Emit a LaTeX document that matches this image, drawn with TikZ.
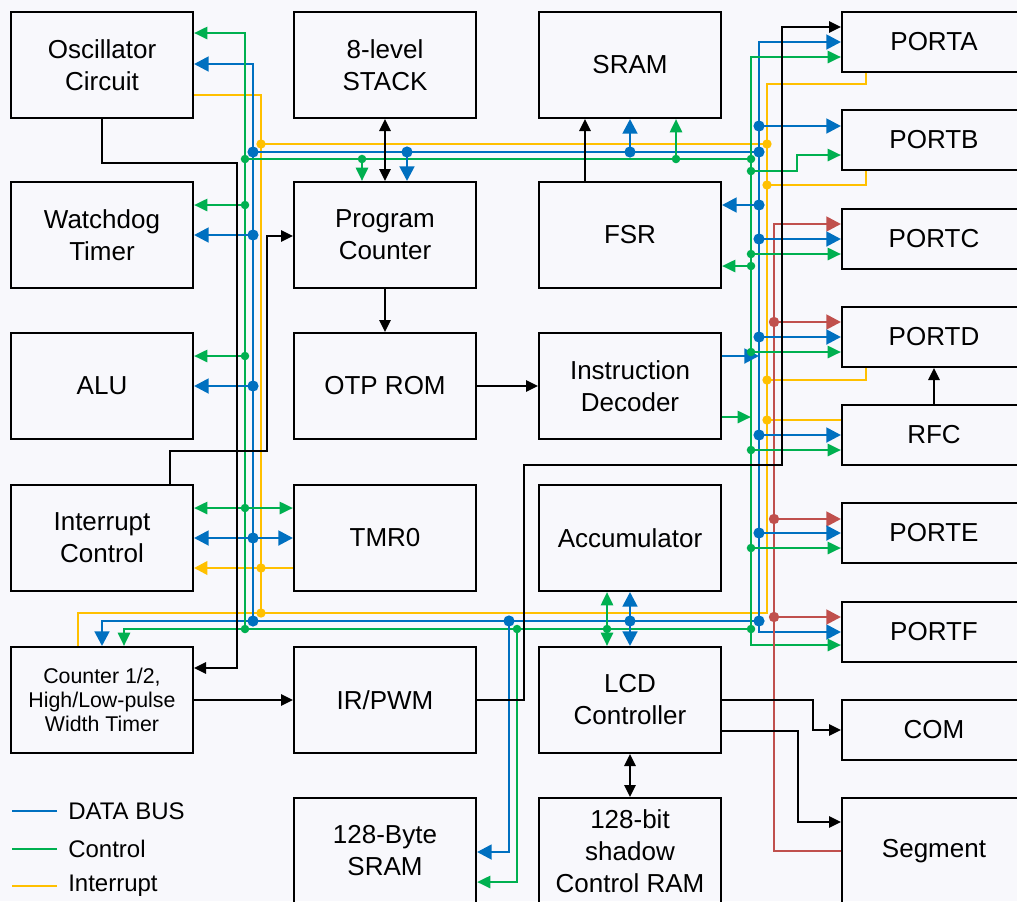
\documentclass[tikz,border=0pt]{standalone}
\usepackage{fontspec}
\setmainfont{Liberation Sans}
\usetikzlibrary{arrows.meta}
\definecolor{busblue}{HTML}{0070C0}
\definecolor{busgreen}{HTML}{00B050}
\definecolor{busyellow}{HTML}{FFC000}
\definecolor{busred}{HTML}{C0504D}
\definecolor{paper}{HTML}{F8F8FC}
\begin{document}
\begin{tikzpicture}[x=0.75pt,y=-0.75pt,
  blk/.style={draw, line width=1.5pt, minimum width=136.5pt, minimum height=79.5pt, inner sep=0pt, align=center, font=\fontsize{19.5}{24}\selectfont},
  port/.style={blk, minimum width=138pt, minimum height=45pt},
  lgd/.style={anchor=west, inner sep=0pt, font=\fontsize{18}{20}\selectfont},
  data/.style={busblue, line width=2.1pt, >={Triangle[length=11pt,width=11pt]}},
  ctrl/.style={busgreen, line width=2pt, >={Triangle[length=10pt,width=9pt]}},
  intr/.style={busyellow, line width=2pt, >={Triangle[length=10pt,width=10pt]}},
  segm/.style={busred, line width=2.1pt, >={Triangle[length=11pt,width=11pt]}},
  sig/.style={black, line width=1.4pt, >={Triangle[length=9pt,width=8.5pt]}}]
  \fill[paper] (0,0) rectangle (1017,901);
  \useasboundingbox (0,0) rectangle (1017,901);
  \clip (0,0) rectangle (1017,901);
  % blocks, left to right
  \node[blk] (osc) at (102,65) {Oscillator\\Circuit};
  \node[blk] (wdt) at (102,235) {Watchdog\\Timer};
  \node[blk] (alu) at (102,386) {ALU};
  \node[blk] (intc) at (102,538) {Interrupt\\Control};
  \node[blk, font=\fontsize{16}{18}\selectfont] (cnt) at (102,700) {Counter 1/2,\\High/Low-pulse\\Width Timer};
  \node[blk] (stack) at (385,65) {8-level\\STACK};
  \node[blk] (pcnt) at (385,235) {Program\\Counter};
  \node[blk] (otp) at (385,386) {OTP ROM};
  \node[blk] (tmr) at (385,538) {TMR0};
  \node[blk] (irpwm) at (385,700) {IR/PWM};
  \node[blk] (bsram) at (385,851) {128-Byte\\SRAM};
  \node[blk] (sram) at (630,65) {SRAM};
  \node[blk] (fsr) at (630,235) {FSR};
  \node[blk] (idec) at (630,386) {Instruction\\Decoder};
  \node[blk] (acc) at (630,538) {Accumulator};
  \node[blk] (lcd) at (630,700) {LCD\\Controller};
  \node[blk] (shram) at (630,851) {128-bit\\shadow\\Control RAM};
  % ports
  \node[port] (porta) at (934,42) {PORTA};
  \node[port] (portb) at (934,140) {PORTB};
  \node[port] (portc) at (934,239) {PORTC};
  \node[port] (portd) at (934,337) {PORTD};
  \node[port] (rfc) at (934,435) {RFC};
  \node[port] (porte) at (934,533) {PORTE};
  \node[port] (portf) at (934,632) {PORTF};
  \node[port] (com) at (934,730) {COM};
  \node[blk, minimum width=138pt] (seg) at (934,851) {Segment};
  % bus rails
  \coordinate (kL) at (237,0);
  \coordinate (gL) at (245,0);
  \coordinate (bL) at (253,0);
  \coordinate (yL) at (261,0);
  \coordinate (kP) at (267,0);
  \coordinate (bS) at (509,0);
  \coordinate (gS) at (517,0);
  \coordinate (gR) at (751,0);
  \coordinate (bR) at (759,0);
  \coordinate (yR) at (767,0);
  \coordinate (rR) at (774,0);
  \coordinate (kR) at (782,0);
  \coordinate (yP) at (866,0);
  \coordinate (yT) at (0,144);
  \coordinate (bT) at (0,152);
  \coordinate (gT) at (0,159);
  \coordinate (yB) at (0,613);
  \coordinate (bB) at (0,621);
  \coordinate (gB) at (0,629);
  % interrupt
  \draw[intr] (osc.east |- 0,95) -| (yL |- yB) -- (yR |- yB) -- (yR |- 0,84) -| (yP |- porta.south);
  \draw[intr] (yL |- yT) -- (yR |- yT);
  \draw[intr] (yL |- yB) -| ([xshift=-18pt]cnt.north);
  \draw[intr,->] (tmr.west |- 0,568) -- (intc.east |- 0,568);
  \draw[intr] (yR |- 0,185) -| (yP |- portb.south);
  \draw[intr] (yR |- 0,380) -| (yP |- portd.south);
  \draw[intr] (yR |- 0,420) -- (rfc.west |- 0,420);
  % data bus
  \draw[data,<-] (osc.east |- 0,64) -| (bL |- bB) -- (bR |- bB);
  \draw[data,->] (bL |- bB) -| (cnt.north);
  \draw[data] (bL |- bT) -- (bR |- bT);
  \draw[data,<->] (porta.west |- 0,42) -| (bR |- 0,632) -- (portf.west |- 0,632);
  % control
  \draw[ctrl,<-] (osc.east |- 0,33) -| (gL |- gB) -- (gR |- gB);
  \draw[ctrl,->] (gL |- gB) -| ([xshift=16.5pt]cnt.north);
  \draw[ctrl] (gL |- gT) -- (gR |- gT);
  \draw[ctrl,<->] (porta.west |- 0,57) -| (gR |- 0,645) -- (portf.west |- 0,645);
  % segment lines
  \draw[segm,->] (seg.west) -| (rR |- 0,224) -- (portc.west |- 0,224);
  \foreach \p/\y in {portd/322, porte/519, portf/617}
    \draw[segm,->] (rR |- 0,\y) -- (\p.west |- 0,\y);
  % left side taps
  \foreach \b/\y in {wdt/235, alu/386} {
    \draw[ctrl,->] (gL |- 0,\y-30) -- (\b.east |- 0,\y-30);
    \draw[data,->] (bL |- 0,\y) -- (\b.east |- 0,\y);
  }
  \draw[ctrl,<->] (intc.east |- 0,508) -- (tmr.west |- 0,508);
  \draw[data,<->] (intc.east) -- (tmr.west);
  % middle taps
  \draw[ctrl,<-] ([xshift=-17.25pt]pcnt.north) -- ++(0,-23);
  \draw[data,<-] ([xshift=16.5pt]pcnt.north) -- ++(0,-30);
  \draw[data,<-] (sram.south) -- ++(0,34);
  \draw[ctrl,<-] ([xshift=34.5pt]sram.south) -- ++(0,41);
  \draw[data,<-] (fsr.east |- 0,205) -- (bR |- 0,205);
  \draw[ctrl,<-] (fsr.east |- 0,266) -- (gR |- 0,266);
  \draw[data,->] (idec.east |- 0,356) -- (bR |- 0,356);
  \draw[ctrl,->] (idec.east |- 0,417) -- (gR |- 0,417);
  \draw[ctrl,<->] ([xshift=-17.25pt]acc.south) -- ([xshift=-17.25pt]lcd.north);
  \draw[data,<->] (acc.south) -- (lcd.north);
  \draw[data,<-] (bsram.east |- 0,852) -| (bS |- bB);
  \draw[ctrl,<-] (bsram.east |- 0,882) -| (gS |- gB);
  % right side taps
  \draw[data,->] (bR |- 0,126) -- (portb.west |- 0,126);
  \draw[ctrl,->] (gR |- 0,171) -- ++(46,0) |- (portb.west |- 0,155);
  \foreach \p/\y in {portc/239, portd/337, rfc/435, porte/533} {
    \draw[data,->] (bR |- 0,\y) -- (\p.west |- 0,\y);
    \draw[ctrl,->] (gR |- 0,\y+15) -- (\p.west |- 0,\y+15);
  }
  % plain signals
  \draw[sig,->] (osc.south) |- (kL |- 0,163) |- (cnt.east |- 0,668);
  \draw[sig,->] ([xshift=51pt]intc.north) |- (kP |- 0,451) |- (pcnt.west |- 0,236);
  \draw[sig,->] (cnt.east) -- (irpwm.west);
  \draw[sig,->] (irpwm.east) -- ++(47,0) |- (kR |- 0,465) |- (porta.west |- 0,27);
  \draw[sig,<->] (stack.south) -- (pcnt.north);
  \draw[sig,->] (pcnt.south) -- (otp.north);
  \draw[sig,->] (otp.east) -- (idec.west);
  \draw[sig,->] ([xshift=-33.75pt]fsr.north) -- ([xshift=-33.75pt]sram.south);
  \draw[sig,<->] (lcd.south) -- (shram.north);
  \draw[sig,->] (lcd.east) -- ++(91,0) |- (com.west);
  \draw[sig,->] (lcd.east |- 0,731) -- ++(76,0) |- (seg.west |- 0,822);
  \draw[sig,->] (rfc.north) -- (portd.south);
  % junction dots
  \foreach \x/\y in {253/152, 253/235, 253/386, 253/538, 253/621, 407/152, 630/152, 759/152, 759/126, 759/205,
      759/239, 759/337, 759/435, 759/533, 759/621, 509/621, 630/621}
    \fill[busblue] (\x,\y) circle (4.2pt);
  \foreach \x/\y in {245/159, 245/205, 245/356, 245/508, 245/629, 362/159, 676/159, 751/159, 751/171, 751/266,
      751/254, 751/352, 751/450, 751/548, 751/629, 517/629, 607/629}
    \fill[busgreen] (\x,\y) circle (3.2pt);
  \foreach \x/\y in {261/144, 261/568, 261/613, 767/144, 767/185, 767/380, 767/420}
    \fill[busyellow] (\x,\y) circle (3.5pt);
  \foreach \x/\y in {774/322, 774/519, 774/617}
    \fill[busred] (\x,\y) circle (3.9pt);
  % legend
  \node[lgd] (lgdata) at (68,811) {DATA BUS};
  \node[lgd] (lgctrl) at (68,849) {Control};
  \node[lgd] (lgintr) at (68,886) {Interrupt};
  \draw[busblue, line width=1.8pt] ([xshift=-8.25pt]lgdata.west) -- ++(-45,0);
  \draw[busgreen, line width=1.8pt] ([xshift=-8.25pt]lgctrl.west) -- ++(-45,0);
  \draw[busyellow, line width=1.8pt] ([xshift=-8.25pt]lgintr.west) -- ++(-45,0);
\end{tikzpicture}
\end{document}
